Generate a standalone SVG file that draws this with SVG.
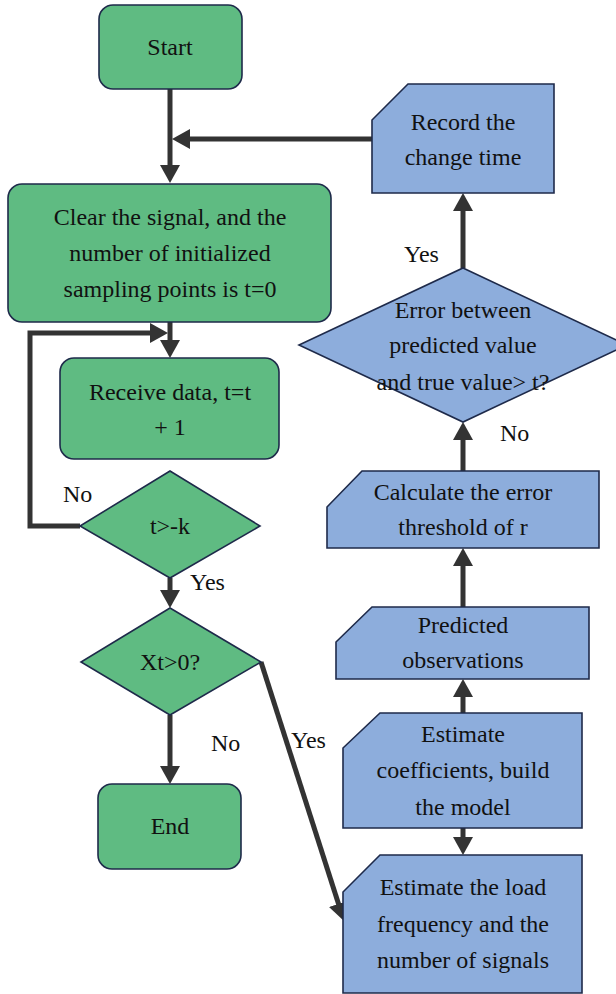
<svg xmlns="http://www.w3.org/2000/svg" width="616" height="994" viewBox="0 0 616 994">
<defs>
<marker id="ah" viewBox="0 0 18 20" refX="1" refY="10" markerWidth="18" markerHeight="20" markerUnits="userSpaceOnUse" orient="auto">
<path d="M0,0 L18,10 L0,20 z" fill="#333"/>
</marker>
</defs>
<rect width="616" height="994" fill="#fff"/>
<g id="connectors" fill="none" stroke="#333" stroke-width="5">
<path d="M170,89 V166" marker-end="url(#ah)"/>
<path d="M372,139 H189" marker-end="url(#ah)"/>
<path d="M170,322 V341" marker-end="url(#ah)"/>
<path d="M80,526 H30 V333 H151" marker-end="url(#ah)"/>
<path d="M170,578 V591" marker-end="url(#ah)"/>
<path d="M170,715 V767" marker-end="url(#ah)"/>
<path d="M261,662 L338.8,904.8" marker-end="url(#ah)"/>
<path d="M463,828 V838" marker-end="url(#ah)"/>
<path d="M463,713 V696" marker-end="url(#ah)"/>
<path d="M463,607 V565" marker-end="url(#ah)"/>
<path d="M463,471 V439" marker-end="url(#ah)"/>
<path d="M463,268 V210" marker-end="url(#ah)"/>
</g>
<g id="labels" style="font-family:'Liberation Serif';font-size:24px" fill="#111">
<text x="63" y="502" style="font-family:'Liberation Serif';font-size:24px">No</text>
<text x="190" y="590" style="font-family:'Liberation Serif';font-size:24px">Yes</text>
<text x="211" y="751" style="font-family:'Liberation Serif';font-size:24px">No</text>
<text x="291" y="748" style="font-family:'Liberation Serif';font-size:24px">Yes</text>
<text x="404" y="262" style="font-family:'Liberation Serif';font-size:24px">Yes</text>
<text x="500" y="441" style="font-family:'Liberation Serif';font-size:24px">No</text>
</g>
<g id="start">
<rect fill="#5fbb82" stroke="#1e2a4a" stroke-width="1.6" x="99" y="5" width="143" height="84" rx="14"/>
<text x="170" y="55" style="font-family:'Liberation Serif';font-size:24px" fill="#111" text-anchor="middle">Start</text>
</g>
<g id="clear">
<rect fill="#5fbb82" stroke="#1e2a4a" stroke-width="1.6" x="8" y="184" width="323" height="138" rx="14"/>
<text x="170" y="225" style="font-family:'Liberation Serif';font-size:24px" fill="#111" text-anchor="middle">Clear the signal, and the</text>
<text x="170" y="261" style="font-family:'Liberation Serif';font-size:24px" fill="#111" text-anchor="middle">number of initialized</text>
<text x="170" y="297" style="font-family:'Liberation Serif';font-size:24px" fill="#111" text-anchor="middle">sampling points is t=0</text>
</g>
<g id="receive">
<rect fill="#5fbb82" stroke="#1e2a4a" stroke-width="1.6" x="60" y="358" width="219" height="101" rx="14"/>
<text x="170" y="400" style="font-family:'Liberation Serif';font-size:24px" fill="#111" text-anchor="middle">Receive data, t=t</text>
<text x="170" y="435" style="font-family:'Liberation Serif';font-size:24px" fill="#111" text-anchor="middle">+ 1</text>
</g>
<g id="check-k">
<polygon fill="#5fbb82" stroke="#1e2a4a" stroke-width="1.6" points="170,471 260,526 170,578 80,526"/>
<text x="170" y="534" style="font-family:'Liberation Serif';font-size:24px" fill="#111" text-anchor="middle">t&gt;-k</text>
</g>
<g id="check-xt">
<polygon fill="#5fbb82" stroke="#1e2a4a" stroke-width="1.6" points="170,608 261,662 170,715 81,662"/>
<text x="170" y="670" style="font-family:'Liberation Serif';font-size:24px" fill="#111" text-anchor="middle">Xt&gt;0?</text>
</g>
<g id="end">
<rect fill="#5fbb82" stroke="#1e2a4a" stroke-width="1.6" x="98" y="784" width="143" height="85" rx="14"/>
<text x="170" y="834" style="font-family:'Liberation Serif';font-size:24px" fill="#111" text-anchor="middle">End</text>
</g>
<g id="record">
<polygon fill="#8daddc" stroke="#1e2a4a" stroke-width="1.6" points="408,84 554,84 554,193 372,193 372,120"/>
<text x="463" y="130" style="font-family:'Liberation Serif';font-size:24px" fill="#111" text-anchor="middle">Record the</text>
<text x="463" y="165" style="font-family:'Liberation Serif';font-size:24px" fill="#111" text-anchor="middle">change time</text>
</g>
<g id="error-check">
<polygon fill="#8daddc" stroke="#1e2a4a" stroke-width="1.6" points="463,268 627,345 463,422 299,345"/>
<text x="463" y="318" style="font-family:'Liberation Serif';font-size:24px" fill="#111" text-anchor="middle">Error between</text>
<text x="463" y="353" style="font-family:'Liberation Serif';font-size:24px" fill="#111" text-anchor="middle">predicted value</text>
<text x="463" y="390" style="font-family:'Liberation Serif';font-size:24px" fill="#111" text-anchor="middle">and true value&gt; t?</text>
</g>
<g id="calculate">
<polygon fill="#8daddc" stroke="#1e2a4a" stroke-width="1.6" points="362,471 599,471 599,548 327,548 327,507"/>
<text x="463" y="500" style="font-family:'Liberation Serif';font-size:24px" fill="#111" text-anchor="middle">Calculate the error</text>
<text x="463" y="535" style="font-family:'Liberation Serif';font-size:24px" fill="#111" text-anchor="middle">threshold of r</text>
</g>
<g id="predicted">
<polygon fill="#8daddc" stroke="#1e2a4a" stroke-width="1.6" points="372,607 589,607 589,679 336,679 336,642"/>
<text x="463" y="633" style="font-family:'Liberation Serif';font-size:24px" fill="#111" text-anchor="middle">Predicted</text>
<text x="463" y="668" style="font-family:'Liberation Serif';font-size:24px" fill="#111" text-anchor="middle">observations</text>
</g>
<g id="coefficients">
<polygon fill="#8daddc" stroke="#1e2a4a" stroke-width="1.6" points="380,713 582,713 582,828 343,828 343,748"/>
<text x="463" y="742" style="font-family:'Liberation Serif';font-size:24px" fill="#111" text-anchor="middle">Estimate</text>
<text x="463" y="778" style="font-family:'Liberation Serif';font-size:24px" fill="#111" text-anchor="middle">coefficients, build</text>
<text x="463" y="815" style="font-family:'Liberation Serif';font-size:24px" fill="#111" text-anchor="middle">the model</text>
</g>
<g id="load">
<polygon fill="#8daddc" stroke="#1e2a4a" stroke-width="1.6" points="380,855 582,855 582,993 343,993 343,892"/>
<text x="463" y="895" style="font-family:'Liberation Serif';font-size:24px" fill="#111" text-anchor="middle">Estimate the load</text>
<text x="463" y="932" style="font-family:'Liberation Serif';font-size:24px" fill="#111" text-anchor="middle">frequency and the</text>
<text x="463" y="968" style="font-family:'Liberation Serif';font-size:24px" fill="#111" text-anchor="middle">number of signals</text>
</g>
</svg>
